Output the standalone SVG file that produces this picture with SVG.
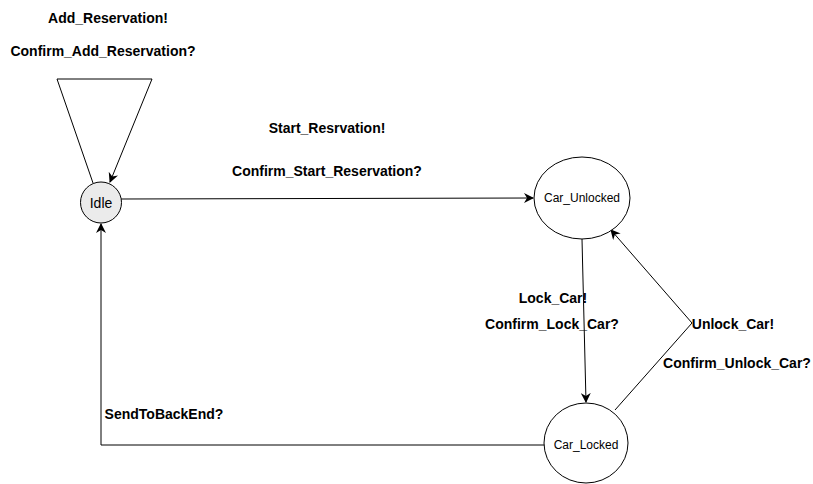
<svg xmlns="http://www.w3.org/2000/svg" width="813" height="484" viewBox="0 0 813 484">
<style>
.lbl{font-family:"Liberation Sans",Arial,sans-serif;font-size:14px;font-weight:bold;fill:#000;text-anchor:middle}
.nt{font-family:"Liberation Sans",Arial,sans-serif;fill:#000;text-anchor:middle}
.edge{fill:none;stroke:#000;stroke-width:1}
.node{fill:#fff;stroke:#000;stroke-width:1}
</style>
<defs>
<marker id="arr" viewBox="0 0 10 10" refX="9" refY="5" markerWidth="10" markerHeight="10" markerUnits="userSpaceOnUse" orient="auto">
<path d="M0,0 L10,5 L0,10 L3,5 z" fill="#000"/>
</marker>
</defs>
<rect width="813" height="484" fill="#fff"/>
<g id="connectors">
<polyline class="edge" points="93,183 57,79 152,79 110,182" marker-end="url(#arr)"/>
<line class="edge" x1="121" y1="199" x2="533" y2="198" marker-end="url(#arr)"/>
<line class="edge" x1="582" y1="239" x2="586" y2="402" marker-end="url(#arr)"/>
<polyline class="edge" points="615,410 692,323 611,230" marker-end="url(#arr)"/>
<polyline class="edge" points="545,445 101,445 101,224" marker-end="url(#arr)"/>
</g>
<g id="labels">
<text class="lbl" x="108" y="23">Add_Reservation!</text>
<text class="lbl" x="103" y="56">Confirm_Add_Reservation?</text>
<text class="lbl" x="327" y="133">Start_Resrvation!</text>
<text class="lbl" x="327" y="176">Confirm_Start_Reservation?</text>
<text class="lbl" x="553" y="303">Lock_Car!</text>
<text class="lbl" x="552" y="329">Confirm_Lock_Car?</text>
<text class="lbl" x="733" y="329">Unlock_Car!</text>
<text class="lbl" x="737" y="368">Confirm_Unlock_Car?</text>
<text class="lbl" x="164" y="419">SendToBackEnd?</text>
</g>
<g id="node-idle">
<circle cx="101" cy="202.5" r="20.5" fill="#ebebeb" stroke="#000"/>
<text class="nt" x="101" y="207.5" font-size="14">Idle</text>
</g>
<g id="node-car-unlocked">
<ellipse class="node" cx="582" cy="198" rx="48" ry="41"/>
<text class="nt" x="582" y="202" font-size="12">Car_Unlocked</text>
</g>
<g id="node-car-locked">
<ellipse class="node" cx="586" cy="443" rx="42" ry="40"/>
<text class="nt" x="586" y="449" font-size="12">Car_Locked</text>
</g>
</svg>
